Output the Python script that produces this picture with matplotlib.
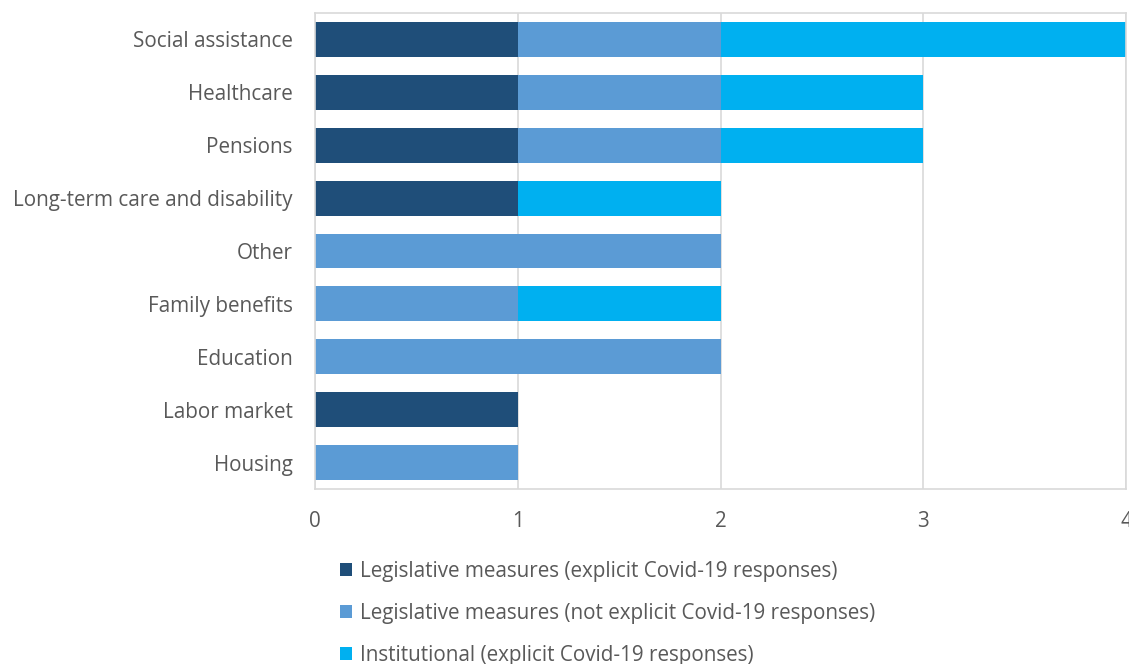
import matplotlib
matplotlib.use("Agg")
import matplotlib.pyplot as plt
from matplotlib.patches import Patch
import numpy as np

categories = ["Social assistance", "Healthcare", "Pensions", "Long-term care and disability",
              "Other", "Family benefits", "Education", "Labor market", "Housing"]
leg_explicit = [1, 1, 1, 1, 0, 0, 0, 1, 0]
leg_not_explicit = [1, 1, 1, 0, 2, 1, 2, 0, 1]
institutional = [2, 1, 1, 1, 0, 1, 0, 0, 0]
series_names = ["Legislative measures (explicit Covid-19 responses)",
                "Legislative measures (not explicit Covid-19 responses)",
                "Institutional (explicit Covid-19 responses)"]
colors = ["#1F4E79", "#5B9BD5", "#00B0F0"]
xticks = [0, 1, 2, 3, 4]

plt.rcParams['font.family'] = ['Open Sans', 'DejaVu Sans']
text_color = "#595959"
fs = 14.9

fig = plt.figure(figsize=(11.29, 6.64), dpi=100)
ax = fig.add_axes([315/1129, 1-489/664, (1126-315)/1129, (489-13)/664])

y = np.arange(len(categories))
left = np.zeros(len(categories))
for vals, c, name in zip([leg_explicit, leg_not_explicit, institutional], colors, series_names):
    vals = np.array(vals, dtype=float)
    ax.barh(y, vals, left=left, height=0.66, color=c, label=name, zorder=2)
    left += vals

ax.set_ylim(len(categories) - 0.5, -0.5)
ax.set_xlim(0, 4)
ax.set_xticks(xticks)
ax.set_xticklabels([str(t) for t in xticks])
ax.set_yticks(y)
ax.set_yticklabels(categories)
ax.tick_params(axis='both', length=0, labelsize=fs, colors=text_color)
ax.tick_params(axis='x', pad=16)
ax.tick_params(axis='y', pad=16)
ax.grid(axis='x', color="#D9D9D9", linewidth=1.2, zorder=1)
ax.set_axisbelow(True)
for s in ax.spines.values():
    s.set_color("#D9D9D9")
    s.set_linewidth(1.2)

handles = [Patch(facecolor=c) for c in colors]
leg = fig.legend(handles, series_names, loc='upper left',
                 bbox_to_anchor=(340/1129, 1-561/664), frameon=False,
                 fontsize=fs, handlelength=0.6, handleheight=0.6,
                 handletextpad=0.35, labelspacing=1.02, borderpad=0, borderaxespad=0)
for t in leg.get_texts():
    t.set_color(text_color)

fig.savefig("out.png", dpi=100)
